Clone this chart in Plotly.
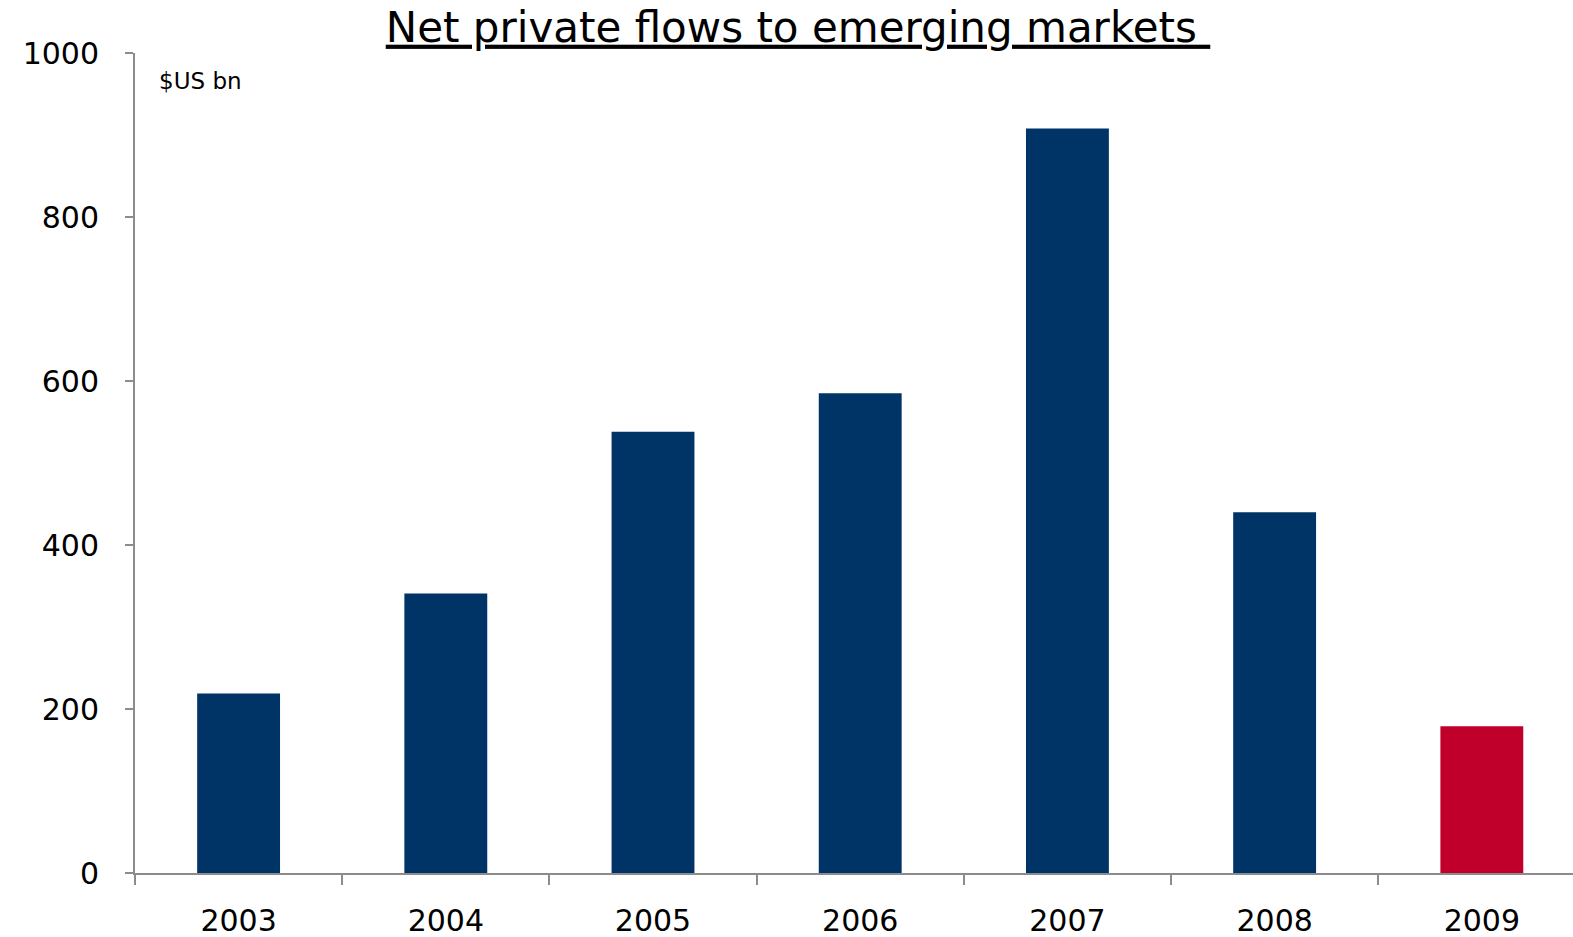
import plotly.graph_objects as go

# Net private capital flows to emerging markets, $US bn
years = ["2003", "2004", "2005", "2006", "2007", "2008", "2009"]
flows = [219, 341, 538, 585, 908, 440, 179]
bar_colors = ["#003366"] * 6 + ["#C0002A"]
y_ticks = [0, 200, 400, 600, 800, 1000]

FONT = "DejaVu Sans"
AXIS_GREY = "#8c8c8c"

W, H = 1573, 937
L, R, T, B = 135, 0, 53, 64

fig = go.Figure(
    go.Bar(
        x=years,
        y=flows,
        marker=dict(color=bar_colors, line=dict(width=0)),
        width=0.4,
        hoverinfo="x+y",
    )
)

fig.update_layout(
    width=W,
    height=H,
    margin=dict(l=L, r=R, t=T, b=B),
    paper_bgcolor="white",
    plot_bgcolor="white",
    showlegend=False,
    font=dict(family=FONT, color="#000000"),
    title=dict(
        text="<u>Net private flows to emerging markets&nbsp;</u>",
        x=798 / W,
        xanchor="center",
        xref="container",
        y=1 - 27 / H,
        yanchor="middle",
        yref="container",
        font=dict(family=FONT, size=42, color="#000000"),
    ),
)

fig.update_xaxes(
    type="category",
    range=[-0.5, 6.44],
    showline=True,
    linecolor=AXIS_GREY,
    linewidth=2,
    ticks="outside",
    tickson="boundaries",
    ticklen=10,
    tickcolor=AXIS_GREY,
    tickwidth=1.5,
    ticklabelstandoff=20,
    tickfont=dict(family=FONT, size=30, color="#000000"),
    showgrid=False,
    zeroline=False,
)

fig.update_yaxes(
    range=[0, 1000],
    tickvals=y_ticks,
    ticktext=[str(v) for v in y_ticks],
    showline=True,
    linecolor=AXIS_GREY,
    linewidth=2,
    ticks="outside",
    ticklen=8,
    tickcolor=AXIS_GREY,
    tickwidth=1.5,
    ticklabelstandoff=20,
    tickfont=dict(family=FONT, size=30, color="#000000"),
    showgrid=False,
    zeroline=False,
)

plot_w = W - L - R
plot_h = H - T - B
fig.add_annotation(
    text="$US bn",
    xref="paper",
    yref="paper",
    x=(157 - L) / plot_w,
    y=1 - (81 - T) / plot_h,
    xanchor="left",
    yanchor="middle",
    showarrow=False,
    font=dict(family=FONT, size=23, color="#000000"),
)

fig.write_html("out.html")
